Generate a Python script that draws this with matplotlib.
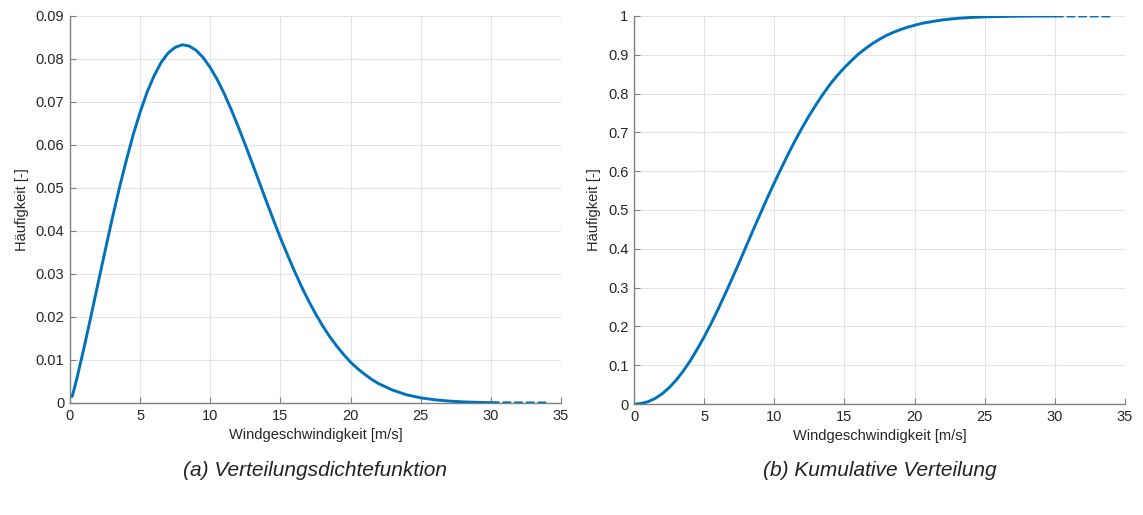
import matplotlib.pyplot as plt
import numpy as np

plt.rcParams['font.family'] = ['Liberation Sans', 'DejaVu Sans']

# wind speed [m/s] and read-off values of density / cumulative curve
v = [0.15, 0.25, 0.5, 1, 1.5, 2, 2.5, 3, 3.5, 4, 4.5, 5, 5.5, 6, 6.5, 7, 7.5, 8,
     8.5, 9, 9.5, 10, 10.5, 11, 11.5, 12, 12.5, 13, 13.5, 14, 14.5, 15, 15.5,
     16, 16.5, 17, 17.5, 18, 18.5, 19, 19.5, 20, 20.5, 21, 21.5, 22, 23, 24,
     25, 26, 27, 28, 29, 30]
pdf = [0.0015, 0.0026, 0.0058, 0.0128, 0.0202, 0.0278, 0.0353, 0.0427, 0.0497,
       0.0562, 0.0623, 0.0676, 0.0723, 0.0761, 0.0792, 0.0814, 0.0827, 0.0833,
       0.0830, 0.0820, 0.0803, 0.0780, 0.0752, 0.0719, 0.0682, 0.0642, 0.0600,
       0.0557, 0.0513, 0.0469, 0.0426, 0.0384, 0.0345, 0.0307, 0.0271, 0.0238,
       0.0208, 0.0180, 0.0155, 0.0133, 0.0113, 0.0095, 0.0080, 0.0067, 0.0055,
       0.0045, 0.0030, 0.0019, 0.0012, 0.00075, 0.00045, 0.00026, 0.00015, 0.00008]
cdf = [0.0001, 0.0003, 0.0014, 0.0060, 0.0142, 0.0262, 0.0419, 0.0614, 0.0845,
       0.111, 0.141, 0.173, 0.208, 0.245, 0.284, 0.324, 0.365, 0.407, 0.449,
       0.490, 0.531, 0.570, 0.608, 0.645, 0.680, 0.713, 0.744, 0.773, 0.800,
       0.825, 0.847, 0.867, 0.885, 0.902, 0.916, 0.929, 0.940, 0.950, 0.958,
       0.965, 0.971, 0.976, 0.981, 0.984, 0.987, 0.990, 0.9937, 0.9961, 0.9977,
       0.9986, 0.9992, 0.9996, 0.9998, 0.9999]
# sparse tail beyond 30 m/s
v_tail = [30, 31, 32, 33, 34]
pdf_tail = [0.00008, 0.00004, 0.00002, 0.00001, 0.000005]
cdf_tail = [0.9999, 0.99993, 0.99997, 0.99998, 0.99999]

blue = '#0072BD'
axcol = '#808080'

fig = plt.figure(figsize=(11.43, 5.15), dpi=100)
ax1 = fig.add_axes([0.0612, 0.2175, 0.4296, 0.7515])
ax2 = fig.add_axes([0.5547, 0.2155, 0.4296, 0.7535])

panels = [
    (ax1, pdf, pdf_tail, 0.09, np.arange(0, 0.091, 0.01),
     ['0'] + [f'{t:.2f}' for t in np.arange(0.01, 0.091, 0.01)],
     '(a) Verteilungsdichtefunktion'),
    (ax2, cdf, cdf_tail, 1.0, np.arange(0, 1.01, 0.1),
     ['0'] + [f'{t:.1f}' for t in np.arange(0.1, 0.95, 0.1)] + ['1'],
     '(b) Kumulative Verteilung'),
]

for ax, y, ytail, ymax, yt, ytl, caption in panels:
    ax.plot(v, y, color=blue, lw=2.1, solid_capstyle='round',
            solid_joinstyle='round', zorder=3)
    ax.plot(v_tail, ytail, color=blue, lw=2.1, ls=(0, (3, 1)), zorder=3)
    ax.set_xlim(0, 35)
    ax.set_ylim(0, ymax)
    ax.set_xticks(range(0, 36, 5))
    ax.set_yticks(yt)
    ax.set_yticklabels(ytl)
    ax.grid(True, color='#e3e3e3', lw=0.8)
    ax.set_axisbelow(True)
    for s in ['top', 'right']:
        ax.spines[s].set_visible(False)
    for s in ['left', 'bottom']:
        ax.spines[s].set_color(axcol)
        ax.spines[s].set_linewidth(1.0)
    ax.tick_params(direction='in', length=4, color=axcol, labelsize=10.5,
                   labelcolor='#262626', pad=4)
    ax.set_xlabel('Windgeschwindigkeit [m/s]', fontsize=10.5, color='#262626', labelpad=4)
    ax.set_ylabel('Häufigkeit [-]', fontsize=10.5, color='#262626', labelpad=5)
    pos = ax.get_position()
    fig.text((pos.x0 + pos.x1) / 2, 0.086, caption, ha='center', va='center',
             fontsize=15, style='italic', color='#222222')

fig.savefig('out.png', dpi=100)
